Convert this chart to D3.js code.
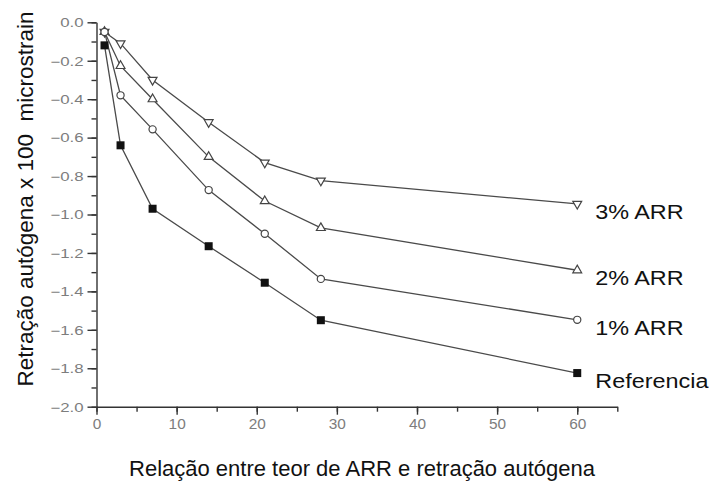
<!DOCTYPE html>
<html>
<head>
<meta charset="utf-8">
<script src="https://cdn.jsdelivr.net/npm/d3@7"></script>
<style>
  body { margin: 0; background: #fff; }
  svg { font-family: Arial, "Liberation Sans", sans-serif; }
</style>
</head>
<body>
<svg class="chart"></svg>
<script>
// idade (dias) e retracao autogena (x 100 microstrain)
var days = [1, 3, 7, 14, 21, 28, 60];
var referencia = [-0.12, -0.64, -0.97, -1.165, -1.355, -1.55, -1.825];
var arr1 = [-0.05, -0.38, -0.557, -0.873, -1.10, -1.335, -1.548];
var arr2 = [-0.05, -0.227, -0.40, -0.70, -0.93, -1.07, -1.29];
var arr3 = [-0.05, -0.11, -0.30, -0.52, -0.73, -0.824, -0.945];
var seriesNames = ["3% ARR", "2% ARR", "1% ARR", "Referencia"];
var xTicks = [0, 10, 20, 30, 40, 50, 60];
var yTicks = [0, -0.2, -0.4, -0.6, -0.8, -1.0, -1.2, -1.4, -1.6, -1.8, -2.0];

var width = 713, height = 481;
// plot area edges (top is a reserved window name, so prefix them)
var plotLeft = 96.5, plotTop = 22.3, plotRight = 617.3, plotBottom = 406.7;

var svg = d3.select(".chart")
    .attr("width", width)
    .attr("height", height);

var x = d3.scaleLinear().domain([0, 65]).range([plotLeft, plotRight]);
var y = d3.scaleLinear().domain([-2, 0]).range([plotBottom, plotTop]);

var fmt = d3.format(".1f");

// stretch text horizontally like the scanned figure
function stretch(sel, k) {
  sel.each(function() {
    var w = this.getComputedTextLength();
    d3.select(this).attr("textLength", w * k).attr("lengthAdjust", "spacingAndGlyphs");
  });
}

//minor ticks first
svg.append("g")
    .attr("transform", "translate(" + plotLeft + ",0)")
    .call(d3.axisLeft(y).tickValues(d3.range(-20, 1).map(function(d){ return d / 10; }))
      .tickSize(5).tickSizeOuter(0).tickFormat(""))
    .call(function(g){ g.select(".domain").remove(); });

svg.append("g")
    .attr("transform", "translate(0," + plotBottom + ")")
    .call(d3.axisBottom(x).tickValues(d3.range(0, 70, 5)).tickSize(5).tickSizeOuter(0).tickFormat(""))
    .call(function(g){ g.select(".domain").remove(); });

//major axes
var yAxis = svg.append("g")
    .attr("transform", "translate(" + plotLeft + ",0)")
    .call(d3.axisLeft(y).tickValues(yTicks).tickSize(9).tickSizeOuter(0).tickFormat(fmt));

var xAxis = svg.append("g")
    .attr("transform", "translate(0," + plotBottom + ")")
    .call(d3.axisBottom(x).tickValues(xTicks).tickSize(8).tickSizeOuter(0));

svg.selectAll(".domain, .tick line")
    .attr("stroke", "#333")
    .attr("stroke-width", 1.4);

yAxis.selectAll(".tick text")
    .attr("x", -13)
    .attr("dy", "0.36em")
    .style("font-size", "12px")
    .style("fill", "#7d7d7d")
    .call(stretch, 1.4);

xAxis.selectAll(".tick text")
    .attr("y", 12)
    .attr("dy", "0.71em")
    .style("font-size", "14px")
    .style("fill", "#7d7d7d")
    .call(stretch, 1.1);

//series
var series = [
  {name: seriesNames[0], values: arr3, symbol: "down"},
  {name: seriesNames[1], values: arr2, symbol: "up"},
  {name: seriesNames[2], values: arr1, symbol: "circle"},
  {name: seriesNames[3], values: referencia, symbol: "square"}
];

var line = d3.line()
    .x(function(d, i) { return x(days[i]); })
    .y(function(d) { return y(d); });

series.forEach(function(s) {
  svg.append("path")
      .datum(s.values)
      .attr("d", line)
      .attr("fill", "none")
      .attr("stroke", "#4a4a4a")
      .attr("stroke-width", 1.3);
});

var tri = d3.symbol().type(d3.symbolTriangle).size(34);

series.forEach(function(s) {
  var g = svg.append("g");
  var pts = g.selectAll("g")
      .data(s.values)
      .enter().append("g")
      .attr("transform", function(d, i) { return "translate(" + x(days[i]) + "," + y(d) + ")"; });

  if (s.symbol == "square") {
    pts.append("rect")
        .attr("x", -4).attr("y", -4)
        .attr("width", 8).attr("height", 8)
        .attr("fill", "#111");
  } else if (s.symbol == "circle") {
    pts.append("circle")
        .attr("r", 3.6)
        .attr("fill", "#fff")
        .attr("stroke", "#444")
        .attr("stroke-width", 1.2);
  } else {
    pts.append("path")
        .attr("d", tri)
        .attr("transform", s.symbol == "down" ? "rotate(180)" : null)
        .attr("fill", "#fff")
        .attr("stroke", "#444")
        .attr("stroke-width", 1.2);
  }

  //label at the end of the line
  svg.append("text")
      .attr("x", x(days[days.length - 1]) + 18)
      .attr("y", y(s.values[s.values.length - 1]) + 15)
      .style("font-size", "20px")
      .style("fill", "#111")
      .text(s.name)
      .call(stretch, 1.17);
});

//axis titles
svg.append("text")
    .attr("x", 362)
    .attr("y", 476)
    .attr("text-anchor", "middle")
    .style("font-size", "22px")
    .style("fill", "#111")
    .text("Relação entre teor de ARR e retração autógena");

svg.append("text")
    .attr("transform", "translate(33,199) rotate(-90)")
    .attr("text-anchor", "middle")
    .style("font-size", "22.5px")
    .style("fill", "#111")
    .style("white-space", "pre")
    .text("Retração autógena x 100  microstrain");
</script>
</body>
</html>
